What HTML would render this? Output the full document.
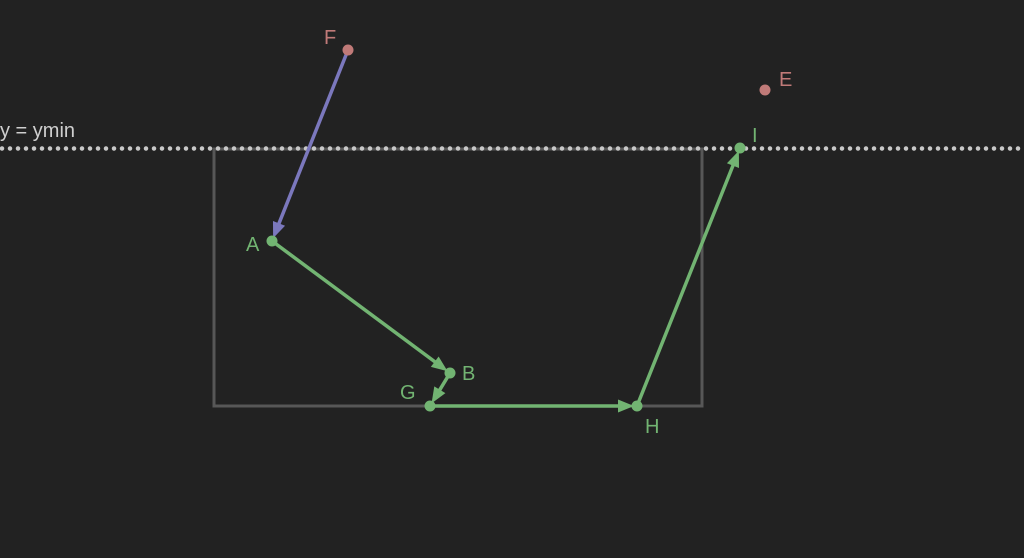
<!DOCTYPE html>
<html><head><meta charset="utf-8"><style>
html,body{margin:0;padding:0;background:#222222;}
svg{display:block;}
text{font-family:"Liberation Sans","DejaVu Sans",sans-serif;font-size:20px;}
</style></head><body>
<svg id="c" width="1024" height="558">
<rect x="214" y="149" width="488" height="257" fill="none" stroke="#575757" stroke-width="3"/>
<line x1="2" y1="148.5" x2="1024" y2="148.5" stroke="#c8c8c8" stroke-width="4.5" stroke-linecap="round" stroke-dasharray="0 8"/>
<text x="0" y="137" fill="#cfcfcf">y = ymin</text>
<g id="g"></g>
</svg>
<script>
const names=["F","A","B","G","H","I","E"];
const xs=[348,272,450,430,637,740,765];
const ys=[50,241,373,406,406,148,90];
const colors=["#c07a78","#72b472","#72b472","#72b472","#72b472","#72b472","#c07a78"];
const labelDx=[-24,-26,12,-30,8,12,14];
const labelDy=[-6,10,7,-7,27,-6,-4];
const edges=[["F","A","p"],["A","B","g"],["B","G","g"],["G","H","g"],["H","I","g"]];
const g=document.getElementById('g');
const NS="http://www.w3.org/2000/svg";
function idx(n){return names.indexOf(n);}
edges.forEach(e=>{
  const a=idx(e[0]),b=idx(e[1]);
  const col=e[2]==='p'?'#7b78bd':'#72b472';
  const dx=xs[b]-xs[a],dy=ys[b]-ys[a],L=Math.hypot(dx,dy);
  const ux=dx/L,uy=dy/L;
  const tipX=xs[b]-ux*3,tipY=ys[b]-uy*3;
  const bx=tipX-ux*16,by=tipY-uy*16;
  const l=document.createElementNS(NS,'line');
  l.setAttribute('x1',xs[a]);l.setAttribute('y1',ys[a]);
  l.setAttribute('x2',bx+ux*2);l.setAttribute('y2',by+uy*2);
  l.setAttribute('stroke',col);
  l.setAttribute('stroke-width','3.5');
  
  
  g.appendChild(l);
  const p=document.createElementNS(NS,'polygon');
  const w=6.5;
  p.setAttribute('points',tipX+','+tipY+' '+(bx-uy*w)+','+(by+ux*w)+' '+(bx+uy*w)+','+(by-ux*w));
  p.setAttribute('fill',col);
  
  
  g.appendChild(p);
});
names.forEach((n,i)=>{
  const c=document.createElementNS(NS,'circle');
  c.setAttribute('cx',xs[i]);c.setAttribute('cy',ys[i]);c.setAttribute('r','5.5');
  c.setAttribute('fill',colors[i]);
  
  
  g.appendChild(c);
  const t=document.createElementNS(NS,'text');
  t.setAttribute('x',xs[i]+labelDx[i]);t.setAttribute('y',ys[i]+labelDy[i]);
  t.setAttribute('fill',colors[i]);t.textContent=n;
  
  
  g.appendChild(t);
});
</script>
</body></html>
